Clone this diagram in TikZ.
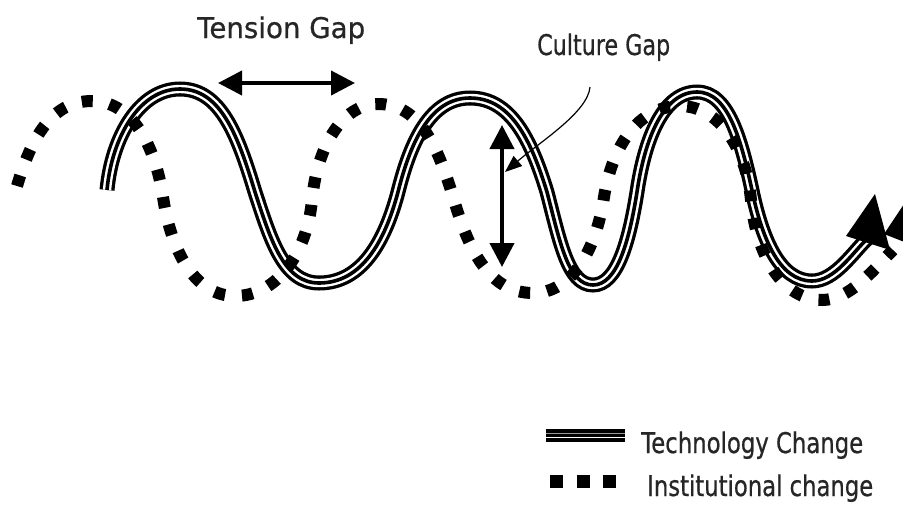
\documentclass[tikz,border=0pt]{standalone}
\usepackage{fontspec}
\setmainfont{DejaVu Sans}
\newfontfamily\lblfont{DejaVu Sans}[FakeBold=0.7]
\usepackage{graphicx}
\usetikzlibrary{arrows.meta}
\tikzset{
  tech/.style={draw=black, line width=15pt, postaction={draw=white, line width=8.4pt}, postaction={draw=black, line width=3.6pt}},
  inst/.style={draw=black, line width=12pt, dash pattern=on 11pt off 17pt},
  legsq/.style={draw=black, line width=13pt, dash pattern=on 13pt off 13.5pt},
  gaparrow/.style={line width=4pt, {Triangle[length=24pt,width=24pt]}-{Triangle[length=24pt,width=24pt]}},
  pointer/.style={line width=1.2pt, -{Triangle[length=17pt,width=13pt]}},
  lbl/.style={inner sep=0pt, text=black!85, font=\lblfont\fontsize{28.5}{31}\selectfont},
  tiptri/.style={fill=black}
}
\begin{document}
\begin{tikzpicture}[x=1pt,y=-1pt]
\clip (0,0) rectangle (903,504);
\fill[white] (0,0) rectangle (903,504);

% technology change (triple line)
\draw[tech] (107,190) .. controls (112,136) and (140,89) .. (180,89)
 .. controls (221,89) and (238,136) .. (255,192)
 .. controls (271,241) and (284,283) .. (319,283)
 .. controls (362,283) and (385,241) .. (398,192)
 .. controls (411,140) and (431,98) .. (470,98)
 .. controls (511,98) and (531,140) .. (547,192)
 .. controls (560,242) and (568,285) .. (593,285)
 .. controls (617,285) and (629,242) .. (637,192)
 .. controls (645,137) and (664,92) .. (697,92)
 .. controls (728,92) and (741,138) .. (753,195)
 .. controls (763,240) and (780,281) .. (812,281)
 .. controls (835,281) and (853,252) .. (868,238);
\fill[tiptri] (846,236) -- (875,194) -- (890,250) -- cycle;

% institutional change (square dots)
\draw[inst] (17,186) .. controls (31,139) and (51,101) .. (92,101)
 .. controls (131,101) and (155,144) .. (163,197)
 .. controls (171,251) and (195,296) .. (235,296)
 .. controls (277,296) and (307,253) .. (312,200)
 .. controls (317,147) and (342,104) .. (378,104)
 .. controls (420,104) and (438,147) .. (454,200)
 .. controls (469,251) and (490,293) .. (533,293)
 .. controls (572,293) and (596,250) .. (604,197)
 .. controls (612,147) and (638,106) .. (680,106)
 .. controls (719,106) and (746,148) .. (751,200)
 .. controls (756,255) and (783,300) .. (822,300)
 .. controls (850,300) and (873,270) .. (893,250);
\fill[tiptri] (884,234) -- (912,192) -- (930,252) -- cycle;

% gaps
\coordinate (tgL) at (218,83);
\coordinate (tgR) at (355,83);
\draw[gaparrow] (tgL) -- (tgR);
\coordinate (cgT) at (502,125);
\coordinate (cgB) at (502,267);
\draw[gaparrow] (cgT) -- (cgB);

\node[lbl, anchor=base west] (tension) at (197,38) {\resizebox{168pt}{\height}{Tension Gap}};
\node[lbl, anchor=base west] (culture) at (537,55) {\resizebox{133pt}{\height}{Culture Gap}};

\coordinate (ptrS) at (590,87);
\coordinate (ptrE) at (505,172);
\draw[pointer] (ptrS) .. controls (588,112) and (540,142) .. (ptrE);

% legend
\coordinate (legA) at (546,435.7);
\coordinate (legB) at (625,435.7);
\draw[black, line width=13.3pt] (legA) -- (legB);
\draw[white, line width=1.6pt] ([yshift=-1.6pt]legA) -- ([yshift=-1.6pt]legB);
\draw[black!40, line width=0.6pt] ([yshift=2.4pt]legA) -- ([yshift=2.4pt]legB);
\coordinate (legC) at (550,481);
\coordinate (legD) at (616,481);
\draw[legsq] (legC) -- (legD);
\node[lbl, anchor=base west] (techlbl) at (641,453) {\resizebox{222pt}{\height}{Technology Change}};
\node[lbl, anchor=base west] (instlbl) at (647,496) {\resizebox{226pt}{\height}{Institutional change}};
\end{tikzpicture}
\end{document}
